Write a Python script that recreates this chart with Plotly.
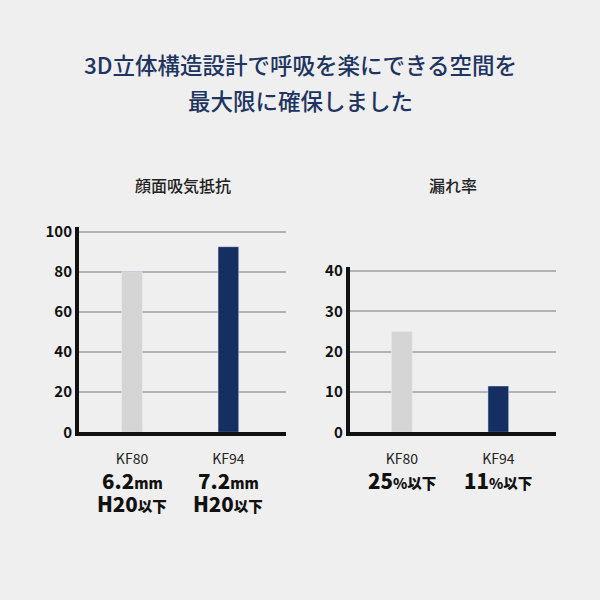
import plotly.graph_objects as go
from plotly.subplots import make_subplots

# data
categories = ["KF80", "KF94"]
resistance = [80, 92.5]          # 顔面吸気抵抗
leakage = [25, 11.5]             # 漏れ率
resistance_spec = ["6.2", "7.2"]  # mmH20以下
leakage_spec = ["25", "11"]       # %以下
resistance_ticks = [0, 20, 40, 60, 80, 100]
leakage_ticks = [0, 10, 20, 30, 40]

title_lines = ["3D立体構造設計で呼吸を楽にできる空間を", "最大限に確保しました"]
panel_titles = ["顔面吸気抵抗", "漏れ率"]

FONT = "Noto Sans CJK JP, Noto Sans, sans-serif"
NAVY = "#152f63"
LIGHT = "#d5d5d5"
BG = "#efefef"
bar_colors = [LIGHT, NAVY]

fig = make_subplots(rows=1, cols=2)

fig.add_trace(go.Bar(x=[0, 1], y=resistance, marker_color=bar_colors,
                     width=0.215, showlegend=False, hoverinfo="skip"), row=1, col=1)
fig.add_trace(go.Bar(x=[0, 1], y=leakage, marker_color=bar_colors,
                     width=0.215, showlegend=False, hoverinfo="skip"), row=1, col=2)

axis_common = dict(showline=True, linecolor="#111111", linewidth=4, zeroline=False)

fig.update_xaxes(axis_common, tickmode="array", tickvals=[0, 1], ticktext=categories,
                 showgrid=False, ticks="", ticklabelstandoff=11,
                 tickfont=dict(family=FONT, size=14, color="#222222"))
fig.update_xaxes(domain=[0.1317, 0.477], range=[-0.55, 1.6], row=1, col=1)
fig.update_xaxes(domain=[0.583, 0.927], range=[-0.54, 1.6], row=1, col=2)

fig.update_yaxes(axis_common, showgrid=True, gridcolor="#b3b3b3", gridwidth=1.5, ticks="",
                 tickfont=dict(family=FONT, size=15, color="#111111", weight="bold"))
fig.update_yaxes(domain=[0.2722, 0.625], range=[0, 102.5], tickvals=resistance_ticks, row=1, col=1)
fig.update_yaxes(domain=[0.2722, 0.5555], range=[0, 41], tickvals=leakage_ticks, row=1, col=2)


def note(text, x, ypx, xref, size, color="#111111", weight="normal"):
    return dict(text=text, x=x, y=1 - ypx / 600, xref=xref, yref="paper",
                xanchor="center", yanchor="middle", showarrow=False,
                font=dict(family=FONT, size=size, color=color, weight=weight))


annotations = []
# main title
for i, line in enumerate(title_lines):
    annotations.append(note(line, 0.5, 58 + 37 * i, "paper", 22.5, "#1e3461", 500))
# panel titles
for name, xr in zip(panel_titles, ["x domain", "x2 domain"]):
    annotations.append(note(name, 0.5, 182, xr, 16, "#222222", 500))

small = "<span style='font-size:14.5px'>{}</span>"
for i, v in enumerate(resistance_spec):
    annotations.append(note(v + small.format("mm"), i, 486, "x", 20.5, weight=900))
    annotations.append(note("H20" + small.format("以下"), i, 509, "x", 20.5, weight=900))
for i, v in enumerate(leakage_spec):
    annotations.append(note(v + small.format("%以下"), i, 486, "x2", 20.5, weight=900))

fig.update_layout(
    width=600, height=600,
    margin=dict(l=0, r=0, t=0, b=0),
    paper_bgcolor=BG, plot_bgcolor=BG,
    annotations=annotations,
    font=dict(family=FONT),
)

fig.write_html("out.html", config={"displayModeBar": False},
               post_script="document.body.style.margin='0';")
